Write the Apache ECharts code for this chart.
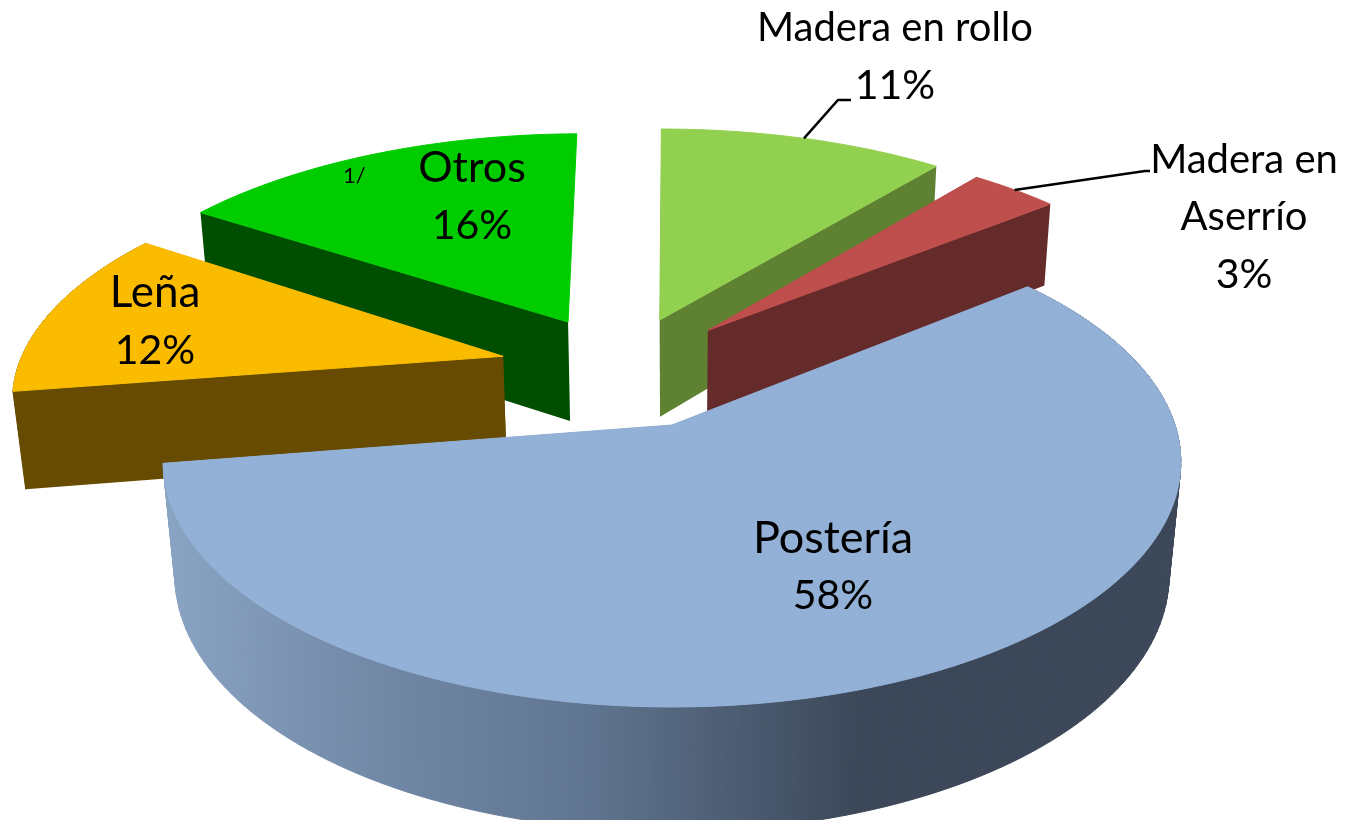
<!DOCTYPE html>
<html lang="es">
<head>
<meta charset="utf-8">
<title>Productos forestales</title>
<style>html,body{margin:0;padding:0;background:#fff}#chart{width:1345px;height:820px}</style>
<script src="https://cdn.jsdelivr.net/npm/echarts@6/dist/echarts.min.js"></script>
</head>
<body>
<div id="chart"></div>
<script>
// Data
const categories = ['Madera en rollo', 'Madera en\nAserrío', 'Postería', 'Leña', 'Otros'];
const shares = [10.7, 3.4, 58.4, 11.9, 15.6];

// Colours
const topColors = ['#92D050', '#BE4F4C', '#93B1D6', '#FBBC00', '#00CC00'];
const wallColors = ['#5E8232', '#652A2A', null, '#664B00', '#004F00'];

// Layout of each piece on the pie's plane, independent of the data
const pieceLayout = [
  { ox: -0.026, oy: -0.47, r: 1.05, depth: 0.90, paint: 1, label: [895, 28], nameSize: 40, lead: [[838, 100], [851, 100]] },
  { ox: 0.076,  oy: -0.42, r: 1.03, depth: 0.80, paint: 2, label: [1244, 160], nameSize: 40, lead: [[1145, 171], [1150, 171]] },
  { ox: 0,      oy: 0,     r: 1.00, depth: 1.00, paint: 5, label: [833, 538], nameSize: 45, outer: true },
  { ox: -0.351, oy: -0.30, r: 1.00, depth: 0.88, paint: 4, label: [155, 293], nameSize: 44, outer: true },
  { ox: -0.221, oy: -0.46, r: 1.03, depth: 0.92, paint: 3, label: [472, 168], nameSize: 43, turn: -0.6, noEndWall: true }
];
const view = { cx: 672, cy: 425, a: 503, c: 239.4, b: 0.151, d: 115, g: 0.023 };
const labelFont = { fontFamily: 'Lato', percentSize: 41, lineHeight: 57.5 };

function project(X, Y, Z) {
  const w = 1 - view.b * Y + view.g * Z;
  return [view.cx + view.a * X / w, view.cy + (view.c * Y + view.d * Z) / w];
}
const total = shares.reduce((s, v) => s + v, 0);

function renderPiece(params, api) {
  const i = params.dataIndex;
  const L = pieceLayout[i];
  let before = 0;
  for (let k = 0; k < i; k++) before += shares[k];
  const value = api.value(0);
  const turn = (L.turn || 0) * Math.PI / 180;
  const t0 = before / total * 2 * Math.PI + turn;
  const t1 = (before + value) / total * 2 * Math.PI + turn;
  const pt = (t, rad, z) => project(L.ox + rad * Math.sin(t), L.oy - rad * Math.cos(t), z * L.depth);
  const steps = Math.max(8, Math.round((t1 - t0) * 40));
  const arc = z => {
    const out = [];
    for (let s = 0; s <= steps; s++) out.push(pt(t0 + (t1 - t0) * s / steps, L.r, z));
    return out;
  };
  const apexTop = pt(0, 0, 0), apexBottom = pt(0, 0, 1);
  const wall = wallColors[i] || {
    type: 'linear', global: true, x: 170, y: 0, x2: 1180, y2: 0,
    colorStops: [
      { offset: 0, color: '#89A3C2' },
      { offset: 0.2, color: '#7289A7' },
      { offset: 0.42, color: '#5F748F' },
      { offset: 0.68, color: '#3C4859' },
      { offset: 1, color: '#3C4859' }
    ]
  };
  const z = L.paint * 10;
  const poly = (points, fill, z2, stroke) => ({
    type: 'polygon', z2, silent: true, shape: { points },
    style: stroke ? { fill, stroke: fill, lineWidth: 1 } : { fill, stroke: null }
  });
  const children = [];
  const topArc = arc(0), bottomArc = arc(1);
  if (L.outer) {
    for (let s = 0; s < steps; s++) {
      children.push(poly([topArc[s], topArc[s + 1], bottomArc[s + 1], bottomArc[s]], wall, z, true));
    }
  }
  children.push(poly([apexTop, pt(t0, L.r, 0), pt(t0, L.r, 1), apexBottom], wall, z + 1));
  if (!L.noEndWall) children.push(poly([apexTop, pt(t1, L.r, 0), pt(t1, L.r, 1), apexBottom], wall, z + 1));
  children.push(poly([apexTop].concat(topArc), topColors[i], z + 2, true));
  if (L.lead) {
    const mid = (t0 + t1) / 2;
    children.push({
      type: 'polyline', z2: 80, silent: true,
      shape: { points: [pt(mid, L.r, 0)].concat(L.lead) },
      style: { stroke: '#000', lineWidth: 2.5, fill: null }
    });
  }
  const names = categories[i].split('\n');
  const lines = names.concat([Math.round(value) + '%']);
  lines.forEach((line, n) => {
    const size = n < names.length ? L.nameSize : labelFont.percentSize;
    children.push({
      type: 'text', z2: 90, silent: true,
      style: {
        text: line, x: L.label[0], y: L.label[1] + n * labelFont.lineHeight,
        align: 'center', verticalAlign: 'middle',
        font: size + 'px ' + labelFont.fontFamily, fill: '#000'
      }
    });
  });
  return { type: 'group', children };
}

const chart = echarts.init(document.getElementById('chart'), null, { renderer: 'canvas' });
chart.setOption({
  animation: false,
  backgroundColor: '#fff',
  graphic: [{
    type: 'text', left: 343, top: 165, z: 100, silent: true,
    style: { text: '1/', font: '22px Lato', fill: '#000' }
  }],
  series: [{
    type: 'custom',
    coordinateSystem: 'none',
    renderItem: renderPiece,
    data: shares.map(v => [v]),
    silent: true
  }]
});
</script>
</body>
</html>
